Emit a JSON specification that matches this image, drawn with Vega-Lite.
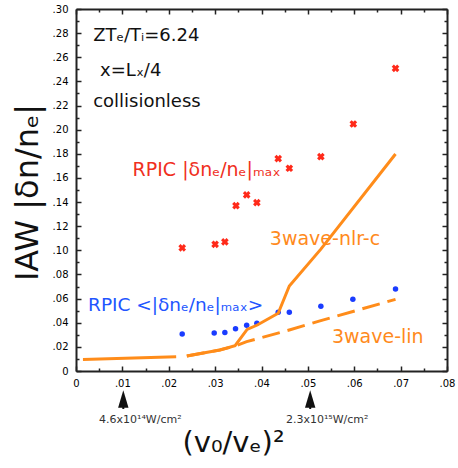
{
  "$schema": "https://vega.github.io/schema/vega-lite/v6.json",
  "width": 371,
  "height": 362,
  "autosize": "none",
  "padding": {"left": 76, "top": 9, "right": 11, "bottom": 97},
  "background": "white",
  "config": {
    "view": {"stroke": null},
    "font": "DejaVu Sans",
    "axis": {
      "grid": false,
      "domainWidth": 2,
      "domainColor": "#222222",
      "tickColor": "#222222",
      "tickWidth": 1.5,
      "labelFont": "DejaVu Sans",
      "labelFontSize": 10,
      "labelColor": "#000000",
      "labelFlush": false,
      "labelOverlap": false,
      "titleFont": "DejaVu Sans",
      "titleFontWeight": "normal",
      "titleColor": "#111111"
    }
  },
  "datasets": {
    "rpicMax": [
      {"v2": 0.0229, "amp": 0.102},
      {"v2": 0.0300, "amp": 0.105},
      {"v2": 0.0321, "amp": 0.107},
      {"v2": 0.0345, "amp": 0.137},
      {"v2": 0.0368, "amp": 0.146},
      {"v2": 0.0390, "amp": 0.1395},
      {"v2": 0.0436, "amp": 0.176},
      {"v2": 0.0460, "amp": 0.168},
      {"v2": 0.0528, "amp": 0.1776},
      {"v2": 0.0598, "amp": 0.2047},
      {"v2": 0.0689, "amp": 0.2508}
    ],
    "rpicAvg": [
      {"v2": 0.0229, "amp": 0.0307},
      {"v2": 0.0298, "amp": 0.0315},
      {"v2": 0.0321, "amp": 0.0320},
      {"v2": 0.0344, "amp": 0.0350},
      {"v2": 0.0368, "amp": 0.0379},
      {"v2": 0.0390, "amp": 0.0395},
      {"v2": 0.0436, "amp": 0.0486},
      {"v2": 0.0460, "amp": 0.0486},
      {"v2": 0.0528, "amp": 0.0536},
      {"v2": 0.0597, "amp": 0.0594},
      {"v2": 0.0689, "amp": 0.0680}
    ],
    "nlr": [
      {"seg": "a", "v2": 0.0015, "amp": 0.0095},
      {"seg": "a", "v2": 0.0216, "amp": 0.0118},
      {"seg": "b", "v2": 0.0239, "amp": 0.0124},
      {"seg": "b", "v2": 0.0310, "amp": 0.0174},
      {"seg": "b", "v2": 0.0343, "amp": 0.0210},
      {"seg": "b", "v2": 0.0369, "amp": 0.0345},
      {"seg": "b", "v2": 0.0391, "amp": 0.0381},
      {"seg": "b", "v2": 0.0436, "amp": 0.0478},
      {"seg": "b", "v2": 0.0460, "amp": 0.0704},
      {"seg": "b", "v2": 0.0528, "amp": 0.1010},
      {"seg": "b", "v2": 0.0689, "amp": 0.1798}
    ],
    "lin": [
      {"v2": 0.0239, "amp": 0.0124},
      {"v2": 0.0310, "amp": 0.0174},
      {"v2": 0.0343, "amp": 0.0207},
      {"v2": 0.0368, "amp": 0.0243},
      {"v2": 0.0460, "amp": 0.0340},
      {"v2": 0.0526, "amp": 0.0415},
      {"v2": 0.0689, "amp": 0.0594}
    ],
    "notes": [
      {"kind": "params", "v2": 0.0037, "amp": 0.2734, "text": "ZTₑ/Tᵢ=6.24"},
      {"kind": "params", "v2": 0.0052, "amp": 0.2444, "text": "x=Lₓ/4"},
      {"kind": "params", "v2": 0.0037, "amp": 0.2190, "text": "collisionless"},
      {"kind": "rpicMax", "v2": 0.0122, "amp": 0.1616, "text": "RPIC |δnₑ/nₑ|ₘₐₓ"},
      {"kind": "rpicAvg", "v2": 0.0026, "amp": 0.0497, "text": "RPIC <|δnₑ/nₑ|ₘₐₓ>"},
      {"kind": "nlr", "v2": 0.0418, "amp": 0.1044, "text": "3wave-nlr-c"},
      {"kind": "lin", "v2": 0.0552, "amp": 0.0229, "text": "3wave-lin"}
    ],
    "intensity": [
      {"v2": 0.0102, "label": "4.6x10¹⁴W/cm²"},
      {"v2": 0.0505, "label": "2.3x10¹⁵W/cm²"}
    ]
  },
  "layer": [
    {
      "data": {"name": "rpicMax"},
      "mark": {"type": "point", "shape": "cross", "angle": 45, "filled": true, "size": 60, "color": "#ff2a1a", "opacity": 1},
      "encoding": {
        "x": {
          "field": "v2", "type": "quantitative",
          "scale": {"domain": [0, 0.08], "nice": false, "zero": false},
          "axis": {
            "orient": "bottom",
            "values": [0, 0.005, 0.01, 0.015, 0.02, 0.025, 0.03, 0.035, 0.04, 0.045, 0.05, 0.055, 0.06, 0.065, 0.07, 0.075, 0.08],
            "tickSize": {"condition": {"test": "abs(datum.value*100 - round(datum.value*100)) < 0.01", "value": -5}, "value": -3},
            "labelExpr": "abs(datum.value*100 - round(datum.value*100)) < 0.01 ? (datum.value == 0 ? '0' : replace(format(datum.value, '.2f'), '0.', '.')) : ''",
            "labelPadding": 12,
            "title": "(v₀/vₑ)²",
            "titleFontSize": 29,
            "titleX": 157,
            "titleY": 71,
            "titleBaseline": "middle",
            "titleAlign": "center"
          }
        },
        "y": {
          "field": "amp", "type": "quantitative",
          "scale": {"domain": [0, 0.3], "nice": false, "zero": false},
          "axis": {
            "orient": "left",
            "values": [0, 0.01, 0.02, 0.03, 0.04, 0.05, 0.06, 0.07, 0.08, 0.09, 0.1, 0.11, 0.12, 0.13, 0.14, 0.15, 0.16, 0.17, 0.18, 0.19, 0.2, 0.21, 0.22, 0.23, 0.24, 0.25, 0.26, 0.27, 0.28, 0.29, 0.3],
            "tickSize": {"condition": {"test": "abs(datum.value*50 - round(datum.value*50)) < 0.01", "value": -5}, "value": -3},
            "labelExpr": "abs(datum.value*50 - round(datum.value*50)) < 0.01 ? (datum.value == 0 ? '0' : replace(format(datum.value, '.2f'), '0.', '.')) : ''",
            "labelPadding": 13,
            "title": "IAW |δn/nₑ|",
            "titleFontSize": 32,
            "titleAngle": -90,
            "titleX": -49,
            "titleY": 183,
            "titleBaseline": "middle",
            "titleAlign": "center"
          }
        }
      }
    },
    {
      "data": {"name": "rpicAvg"},
      "mark": {"type": "circle", "size": 30, "color": "#1a3cff", "opacity": 1},
      "encoding": {
        "x": {
          "field": "v2", "type": "quantitative",
          "scale": {"domain": [0, 0.08], "nice": false, "zero": false},
          "axis": {
            "orient": "top",
            "values": [0, 0.005, 0.01, 0.015, 0.02, 0.025, 0.03, 0.035, 0.04, 0.045, 0.05, 0.055, 0.06, 0.065, 0.07, 0.075, 0.08],
            "tickSize": {"condition": {"test": "abs(datum.value*100 - round(datum.value*100)) < 0.01", "value": -5}, "value": -3},
            "labels": false,
            "title": null
          }
        },
        "y": {
          "field": "amp", "type": "quantitative",
          "scale": {"domain": [0, 0.3], "nice": false, "zero": false},
          "axis": {
            "orient": "right",
            "values": [0, 0.01, 0.02, 0.03, 0.04, 0.05, 0.06, 0.07, 0.08, 0.09, 0.1, 0.11, 0.12, 0.13, 0.14, 0.15, 0.16, 0.17, 0.18, 0.19, 0.2, 0.21, 0.22, 0.23, 0.24, 0.25, 0.26, 0.27, 0.28, 0.29, 0.3],
            "tickSize": {"condition": {"test": "abs(datum.value*50 - round(datum.value*50)) < 0.01", "value": -5}, "value": -3},
            "labels": false,
            "title": null
          }
        }
      }
    },
    {
      "data": {"name": "lin"},
      "mark": {"type": "line", "color": "#ff8c1a", "strokeWidth": 3, "strokeDash": [18, 8]},
      "encoding": {
        "x": {"field": "v2", "type": "quantitative", "axis": null},
        "y": {"field": "amp", "type": "quantitative", "axis": null}
      }
    },
    {
      "data": {"name": "nlr"},
      "mark": {"type": "line", "color": "#ff8c1a", "strokeWidth": 3},
      "encoding": {
        "x": {"field": "v2", "type": "quantitative", "axis": null},
        "y": {"field": "amp", "type": "quantitative", "axis": null},
        "detail": {"field": "seg"}
      }
    },
    {
      "data": {"name": "notes"},
      "transform": [{"filter": "datum.kind == 'params'"}],
      "mark": {"type": "text", "align": "left", "baseline": "alphabetic", "fontSize": 18, "color": "#111111"},
      "encoding": {
        "x": {"field": "v2", "type": "quantitative", "axis": null},
        "y": {"field": "amp", "type": "quantitative", "axis": null},
        "text": {"field": "text"}
      }
    },
    {
      "data": {"name": "notes"},
      "transform": [{"filter": "datum.kind == 'rpicMax'"}],
      "mark": {"type": "text", "align": "left", "baseline": "alphabetic", "fontSize": 19, "color": "#f0301e"},
      "encoding": {
        "x": {"field": "v2", "type": "quantitative", "axis": null},
        "y": {"field": "amp", "type": "quantitative", "axis": null},
        "text": {"field": "text"}
      }
    },
    {
      "data": {"name": "notes"},
      "transform": [{"filter": "datum.kind == 'rpicAvg'"}],
      "mark": {"type": "text", "align": "left", "baseline": "alphabetic", "fontSize": 18.5, "color": "#2255ff"},
      "encoding": {
        "x": {"field": "v2", "type": "quantitative", "axis": null},
        "y": {"field": "amp", "type": "quantitative", "axis": null},
        "text": {"field": "text"}
      }
    },
    {
      "data": {"name": "notes"},
      "transform": [{"filter": "datum.kind == 'nlr' || datum.kind == 'lin'"}],
      "mark": {"type": "text", "align": "left", "baseline": "alphabetic", "fontSize": 19, "color": "#ff8a1c"},
      "encoding": {
        "x": {"field": "v2", "type": "quantitative", "axis": null},
        "y": {"field": "amp", "type": "quantitative", "axis": null},
        "text": {"field": "text"}
      }
    },
    {
      "data": {"name": "intensity"},
      "mark": {"type": "rule", "color": "#111111", "strokeWidth": 2},
      "encoding": {
        "x": {"field": "v2", "type": "quantitative", "axis": null},
        "y": {"datum": -0.0232, "type": "quantitative", "axis": null},
        "y2": {"datum": -0.0315}
      }
    },
    {
      "data": {"name": "intensity"},
      "mark": {"type": "point", "shape": "M0,-1L0.6,1L-0.6,1Z", "filled": true, "size": 300, "color": "#111111", "opacity": 1},
      "encoding": {
        "x": {"field": "v2", "type": "quantitative", "axis": null},
        "y": {"datum": -0.0232, "type": "quantitative", "axis": null}
      }
    },
    {
      "data": {"name": "intensity"},
      "mark": {"type": "text", "align": "center", "baseline": "middle", "fontSize": 11, "dx": 17, "color": "#333333"},
      "encoding": {
        "x": {"field": "v2", "type": "quantitative", "axis": null},
        "y": {"datum": -0.0406, "type": "quantitative", "axis": null},
        "text": {"field": "label"}
      }
    }
  ],
  "resolve": {"axis": {"x": "independent", "y": "independent"}}
}
